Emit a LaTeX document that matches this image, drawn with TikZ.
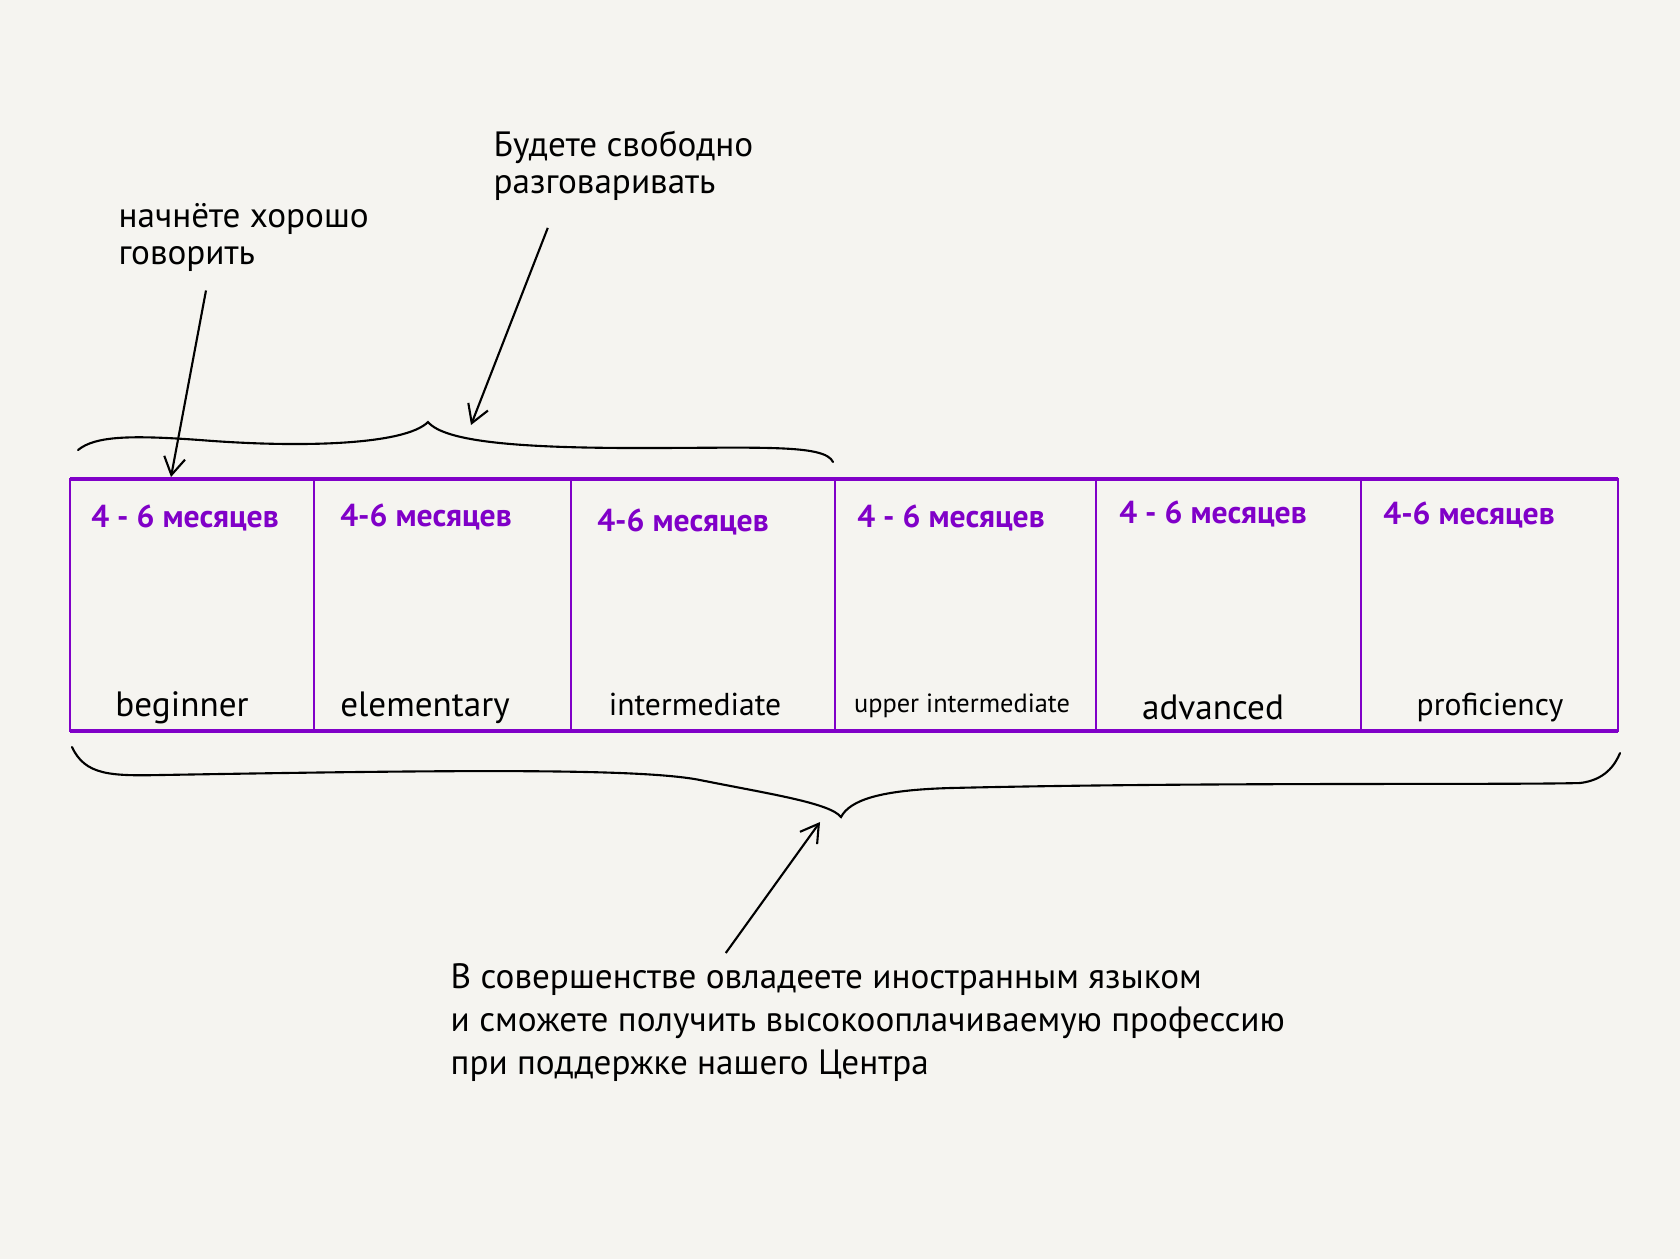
\documentclass[tikz,border=0pt]{standalone}
\usepackage{fontspec}
\setmainfont{PT Sans}
\usetikzlibrary{arrows.meta,calc}
\definecolor{paper}{RGB}{245,244,240}
\definecolor{levelviolet}{RGB}{128,0,200}
\tikzset{
  months/.style={text=levelviolet, inner sep=0pt, font=\fontsize{9}{11}\selectfont\bfseries},
  level/.style={inner sep=0pt, font=\fontsize{10}{12}\selectfont},
  note/.style={inner sep=0pt, align=left, anchor=north west, font=\fontsize{10}{10.5}\selectfont},
  pointer/.style={line width=0.6pt, -{Straight Barb[length=5pt,width=6pt]}},
  brace/.style={line width=0.6pt, line cap=round},
}

\begin{document}
\begin{tikzpicture}[x=0.01cm,y=-0.01cm]
			%%%%% BACKGROUND %%%%%
			\fill[paper] (0, 0) rectangle (1680, 1259);
			
			%%%%% LEVELS %%%%%
			\draw[levelviolet, line width=0.6pt] (70, 479) rectangle (1618, 731);
			\draw[levelviolet, line width=1.1pt] (70, 479) -- (1618, 479);
			\draw[levelviolet, line width=1.1pt] (70, 731) -- (1618, 731);
			\foreach \x in {314, 571, 835, 1096, 1361}
				\draw[levelviolet, line width=0.6pt] (\x, 479) -- (\x, 731);
			
			\node[months] (m1) at (185, 518) {4 - 6 месяцев};
			\node[months] (m2) at (426, 517) {4-6 месяцев};
			\node[months] (m3) at (683, 522) {4-6 месяцев};
			\node[months] (m4) at (951, 518) {4 - 6 месяцев};
			\node[months] (m5) at (1213, 514) {4 - 6 месяцев};
			\node[months] (m6) at (1469, 515) {4-6 месяцев};
			
			\node[level] (beginner) at (182, 708) {beginner};
			\node[level] (elementary) at (425, 708) {elementary};
			\node[level, font=\fontsize{9}{11}\selectfont] (intermediate) at (695, 704) {intermediate};
			\node[level, font=\fontsize{7.5}{9}\selectfont] (upper) at (962, 706) {upper intermediate};
			\node[level] (advanced) at (1213, 707) {advanced};
			\node[level, font=\fontsize{9}{11}\selectfont] (proficiency) at (1490, 708) {proficiency};
			
			%%%%% BRACES %%%%%
			\draw[brace] (78, 450) .. controls (95, 436) and (130, 435) .. (200, 440)
				.. controls (300, 448) and (405, 445) .. (428, 422)
				.. controls (445, 442) and (520, 448) .. (640, 448)
				.. controls (760, 448) and (825, 444) .. (833, 462);
			\coordinate (fluentEnd) at (471, 425);
			
			\draw[brace] (72, 747) .. controls (85, 775) and (110, 776) .. (160, 775)
				.. controls (450, 770) and (640, 768) .. (700, 780)
				.. controls (770, 794) and (830, 803) .. (841, 817)
				.. controls (850, 800) and (880, 790) .. (950, 788)
				.. controls (1200, 782) and (1500, 785) .. (1580, 783)
				.. controls (1605, 780) and (1615, 765) .. (1620, 753);
			\coordinate (masterEnd) at (820, 822);
			\coordinate (speakEnd) at (171, 477);
			
			%%%%% NOTES %%%%%
			\node[note] (speak) at (118, 203) {начнёте хорошо\\говорить};
			\node[note] (fluent) at (493, 130) {Будете свободно\\разговаривать};
			\node[note, font=\fontsize{10}{12.2}\selectfont] (master) at (450, 963)
				{В совершенстве овладеете иностранным языком\\
				 и сможете получить высокооплачиваемую профессию\\
				 при поддержке нашего Центра};
			
			\draw[pointer] ($(speak.south west)!0.35!(speak.south east)+(0, 18)$) -- (speakEnd);
			\draw[pointer] ($(fluent.south west)!0.21!(fluent.south east)+(0, 27)$) -- (fluentEnd);
			\draw[pointer] ($(master.north west)!0.33!(master.north east)+(0, -10)$) -- (masterEnd);
\end{tikzpicture}
\end{document}
